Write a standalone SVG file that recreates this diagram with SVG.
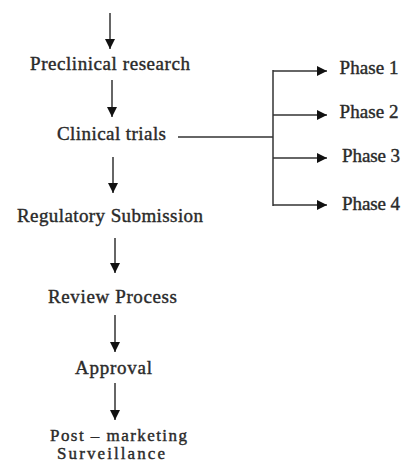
<svg xmlns="http://www.w3.org/2000/svg" width="404" height="463" viewBox="0 0 404 463">
<defs>
<marker id="ah" viewBox="0 0 10 10" refX="10" refY="5" markerWidth="10" markerHeight="10" markerUnits="userSpaceOnUse" orient="auto">
<path d="M0,0 L10,5 L0,10 Z" fill="#111"/>
</marker>
</defs>
<style>
text{font-family:"Liberation Serif","Times New Roman",serif;font-size:19px;fill:#2a2a2a;stroke:#2a2a2a;stroke-width:0.4;text-anchor:middle}
.s{font-size:17px}
.c line{stroke:#333;stroke-width:1.5;fill:none}
.a{marker-end:url(#ah)}
</style>
<rect width="404" height="463" fill="#fff"/>
<g class="c" id="connectors">
<line class="a" x1="110" y1="13" x2="110" y2="49"/>
<line class="a" x1="112" y1="80" x2="112" y2="117"/>
<line class="a" x1="113" y1="157" x2="113" y2="193"/>
<line class="a" x1="115" y1="238" x2="115" y2="273"/>
<line class="a" x1="115" y1="315" x2="115" y2="352"/>
<line class="a" x1="115" y1="383" x2="115" y2="420"/>
<line x1="178" y1="137" x2="273" y2="137"/>
<line x1="273" y1="70" x2="273" y2="206"/>
<line class="a" x1="273" y1="71" x2="327" y2="71"/>
<line class="a" x1="273" y1="115" x2="327" y2="115"/>
<line class="a" x1="273" y1="158" x2="327" y2="158"/>
<line class="a" x1="273" y1="205" x2="327" y2="205"/>
</g>
<g id="preclinical"><text x="110" y="70" textLength="160">Preclinical research</text></g>
<g id="clinical"><text x="111.5" y="140" textLength="109">Clinical trials</text></g>
<g id="regulatory"><text x="110" y="222" textLength="186">Regulatory Submission</text></g>
<g id="review"><text x="112.5" y="303" textLength="129">Review Process</text></g>
<g id="approval"><text x="113.5" y="374" textLength="77">Approval</text></g>
<g id="postmarketing"><text class="s" x="118.5" y="441" textLength="137">Post – marketing</text><text class="s" x="111" y="459" textLength="108">Surveillance</text></g>
<g id="phase1"><text x="369" y="74" textLength="59">Phase 1</text></g>
<g id="phase2"><text x="369" y="118" textLength="59">Phase 2</text></g>
<g id="phase3"><text x="371" y="162" textLength="58">Phase 3</text></g>
<g id="phase4"><text x="371" y="210" textLength="58">Phase 4</text></g>
</svg>
